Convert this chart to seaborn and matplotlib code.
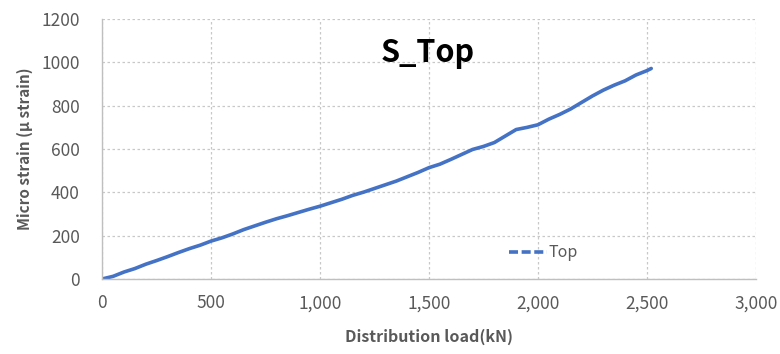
import matplotlib
matplotlib.use('Agg')
import matplotlib.pyplot as plt
from matplotlib.lines import Line2D
from matplotlib.ticker import FuncFormatter
import seaborn as sns

load = [0, 50, 100, 150, 200, 250, 300, 350, 400, 450, 500, 550, 600, 650, 700,
        750, 800, 850, 900, 950, 1000, 1050, 1100, 1150, 1200, 1250, 1300, 1350,
        1400, 1450, 1500, 1550, 1600, 1650, 1700, 1750, 1800, 1850, 1900, 1950,
        2000, 2050, 2100, 2150, 2200, 2250, 2300, 2350, 2400, 2450, 2500, 2520]
strain = [0, 12, 32, 48, 68, 85, 103, 122, 140, 156, 175, 190, 208, 228, 245,
          262, 278, 292, 307, 322, 336, 352, 368, 386, 401, 418, 435, 452,
          472, 492, 514, 530, 552, 575, 598, 612, 630, 660, 690, 700,
          712, 738, 760, 785, 815, 845, 872, 895, 915, 942, 962, 972]

x_ticks = [0, 500, 1000, 1500, 2000, 2500, 3000]
y_ticks = [0, 200, 400, 600, 800, 1000, 1200]

sns.set_style("whitegrid")
plt.rcParams['font.family'] = ['Noto Sans CJK KR', 'DejaVu Sans']

grey = '#595959'
blue = '#4472C4'

fig = plt.figure(figsize=(7.8, 3.54), dpi=100)
ax = fig.add_axes([0.131, 0.212, 0.838, 0.734])

sns.lineplot(x=load, y=strain, ax=ax, color=blue, linewidth=2.6)

ax.set_xlim(0, 3000)
ax.set_ylim(0, 1200)
ax.set_xticks(x_ticks)
ax.set_yticks(y_ticks)
ax.xaxis.set_major_formatter(FuncFormatter(lambda v, p: f"{int(v):,}"))
ax.tick_params(axis='both', colors=grey, labelsize=12.5, length=0)
ax.tick_params(axis='y', pad=16)
ax.tick_params(axis='x', pad=11)

ax.grid(True, linestyle=(0, (2, 2)), color='#C8C8C8', linewidth=0.9)
for side in ['top', 'right']:
    ax.spines[side].set_visible(False)
for side in ['left', 'bottom']:
    ax.spines[side].set_color('#BFBFBF')
    ax.spines[side].set_linewidth(1)

ax.set_xlabel('Distribution load(kN)', fontsize=11.5, fontweight='bold', color=grey, labelpad=12)
ax.set_ylabel('Micro strain (\u00b5 strain)', fontsize=11, fontweight='bold', color=grey, labelpad=6)

ax.text(0.498, 0.87, 'S_Top', transform=ax.transAxes, ha='center', va='center',
        fontsize=22, fontweight='bold', color='black')

handle = Line2D([], [], color=blue, linewidth=2.6, linestyle=(0, (2.5, 1)))
leg = ax.legend([handle], ['Top'], loc='center left', bbox_to_anchor=(0.6, 0.1),
                frameon=False, fontsize=11.5, handlelength=2.4, handletextpad=0.1)
for t in leg.get_texts():
    t.set_color(grey)

plt.savefig('out.png', dpi=100)
plt.close()
